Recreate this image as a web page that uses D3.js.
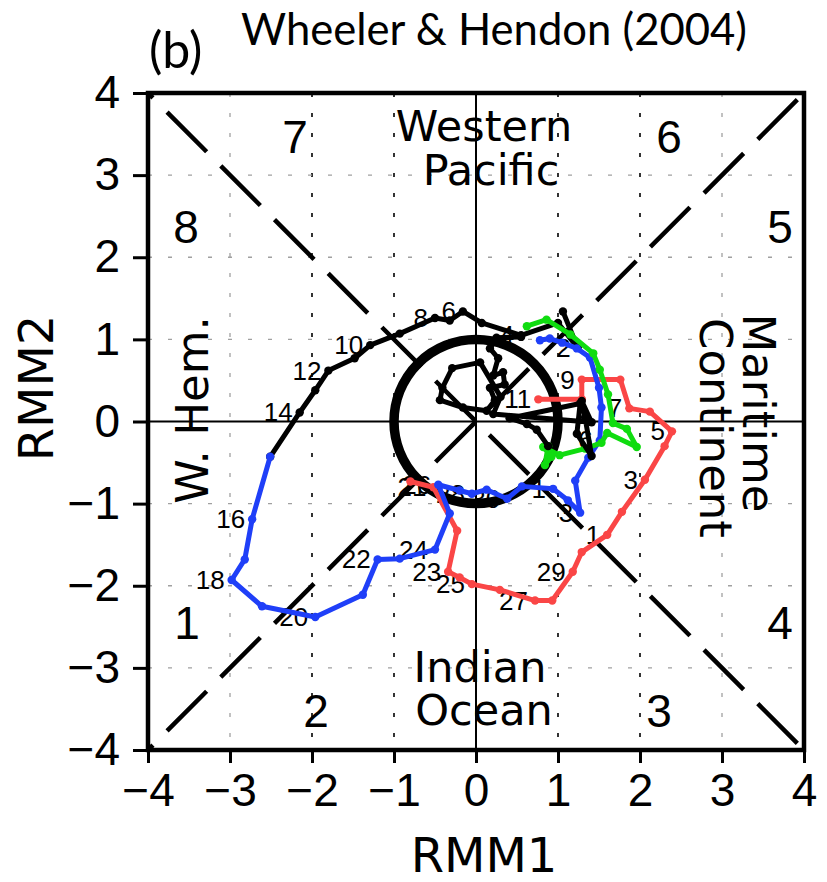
<!DOCTYPE html>
<html>
<head>
<meta charset="utf-8">
<script src="https://cdn.jsdelivr.net/npm/d3@7"></script>
<style>
  html, body { margin: 0; background: #fff; }
  svg { display: block; }
</style>
</head>
<body>
<svg id="chart" width="827" height="882"></svg>
<script>
// ---- data -------------------------------------------------------------
const axisTicks = [-4, -3, -2, -1, 0, 1, 2, 3, 4];

// Black track: arc out of the western hemisphere side
const blackArcRMM1 = [1.06, 1.24, 1.00, 0.55, 0.07, -0.16, -0.32, -0.50, -0.93, -1.29, -1.48, -1.80, -1.96, -2.15, -2.51];
const blackArcRMM2 = [1.34, 0.90, 1.20, 1.05, 1.20, 1.34, 1.23, 1.26, 1.07, 0.93, 0.77, 0.62, 0.38, 0.11, -0.43];
const blackArcDays = [1, 2, 3, 4, 5, 6, 7, 8, 9, 10, 11, 12, 13, 14, 15];
const blackArcLabels = [2, 4, 6, 8, 10, 12, 14];

// Blue track
const blueRMM1 = [-2.51, -2.73, -2.82, -2.98, -2.61, -1.96, -1.38, -1.20, -0.93, -0.50, -0.32, -0.46, -0.20, -0.05, 0.13, 0.38, 0.56, 0.94, 1.12, 1.27, 1.21, 1.37, 1.51, 1.53, 1.50, 1.39, 1.23, 1.05, 0.90, 0.78];
const blueRMM2 = [-0.43, -1.19, -1.68, -1.93, -2.25, -2.38, -2.11, -1.68, -1.67, -1.56, -1.12, -0.77, -0.84, -0.88, -0.83, -0.94, -0.79, -0.82, -0.96, -1.11, -0.72, -0.44, -0.23, 0.17, 0.41, 0.78, 0.89, 0.96, 1.01, 0.99];
const blueDays = [15, 16, 17, 18, 19, 20, 21, 22, 23, 24, 25, 26, 27, 28, 29, 30, 31, 1, 2, 3, 4, 5, 6, 7, 8, 9, 10, 11, 12, 13];
const blueLabels = [16, 18, 20, 22, 24, 26, 28, 30, 1, 3, 6];

// Red track
const redRMM1 = [-0.80, -0.52, -0.23, -0.34, -0.20, -0.05, 0.29, 0.72, 0.93, 1.18, 1.29, 1.60, 1.78, 2.06, 2.30, 2.39, 2.12, 1.87, 1.76, 1.29, 1.29, 0.76];
const redRMM2 = [-0.73, -0.80, -1.33, -1.83, -1.90, -1.98, -2.05, -2.18, -2.18, -1.83, -1.59, -1.38, -1.10, -0.71, -0.30, -0.12, 0.12, 0.16, 0.51, 0.51, 0.27, 0.27];
const redDays = [20, 21, 22, 23, 24, 25, 26, 27, 28, 29, 30, 1, 2, 3, 4, 5, 6, 7, 8, 9, 10, 11];
const redLabels = [21, 23, 25, 27, 29, 1, 3, 5, 7, 9, 11];

// Green track
const greenRMM1 = [0.88, 0.84, 0.92, 0.82, 1.02, 1.33, 1.53, 1.60, 1.96, 1.84, 1.67, 1.61, 1.51, 1.43, 1.15, 0.86, 0.62];
const greenRMM2 = [-0.30, -0.53, -0.43, -0.31, -0.41, -0.33, -0.26, -0.14, -0.31, -0.09, -0.02, 0.33, 0.63, 0.83, 1.06, 1.24, 1.16];

// Black track inside the weak-amplitude circle
const blackInRMM1 = [0.55, 0.25, 0.17, 0.27, 0.21, 0.33, 0.35, 0.17, 0.23, 0.13, -0.16, -0.44, -0.41, -0.29, 0.05, 0.30, 0.21, 1.41, 1.29, 1.33, 1.41, 1.23, 1.27, 0.41, 0.62, 0.74, 0.88];
const blackInRMM2 = [1.03, 1.02, 0.89, 0.77, 0.56, 0.60, 0.45, 0.41, 0.26, 0.13, 0.17, 0.26, 0.41, 0.65, 0.72, 0.30, 0.09, -0.01, 0.25, 0.05, -0.42, -0.15, 0.22, 0.04, -0.03, -0.10, -0.30];

// ---- layout -----------------------------------------------------------
const svg = d3.select("#chart");
const x = d3.scaleLinear().domain([-4, 4]).range([148, 804]);
const y = d3.scaleLinear().domain([-4, 4]).range([750, 93]);
const NUM_FONT = "'Liberation Sans', Arial, sans-serif";
const WORD_FONT = "'DejaVu Sans', sans-serif";

// grid lines
const grid = svg.append("g");
axisTicks.filter(v => v !== 0 && Math.abs(v) < 4).forEach(v => {
  grid.append("line")
    .attr("x1", x(-4)).attr("x2", x(4)).attr("y1", y(v)).attr("y2", y(v))
    .attr("stroke", "#a0a0a0").attr("stroke-width", 1.3).attr("stroke-dasharray", "4,16");
  const dark = Math.abs(v) <= 2;
  grid.append("line")
    .attr("y1", y(4)).attr("y2", y(-4)).attr("x1", x(v)).attr("x2", x(v))
    .attr("stroke", dark ? "#000" : "#a0a0a0")
    .attr("stroke-width", dark ? 1.6 : 1.3)
    .attr("stroke-dasharray", "4,16");
});

// zero axes
svg.append("line").attr("x1", x(-4)).attr("x2", x(4)).attr("y1", y(0)).attr("y2", y(0))
  .attr("stroke", "#000").attr("stroke-width", 2);
svg.append("line").attr("x1", x(0)).attr("x2", x(0)).attr("y1", y(4)).attr("y2", y(-4))
  .attr("stroke", "#000").attr("stroke-width", 2);

// phase boundary diagonals
[[[-4, -4], [4, 4]], [[-4, 4], [4, -4]]].forEach(([a, b]) => {
  svg.append("line")
    .attr("x1", x(a[0])).attr("y1", y(a[1])).attr("x2", x(b[0])).attr("y2", y(b[1]))
    .attr("stroke", "#000").attr("stroke-width", 4.5)
    .attr("stroke-dasharray", "56,20").attr("stroke-dashoffset", 49);
});

// phase numbers and region names
const phasePos = [
  ["1", 187, 639], ["2", 316, 727], ["3", 659, 727], ["4", 780, 639],
  ["5", 780, 243], ["6", 669, 153], ["7", 295, 153], ["8", 186, 243]
];
phasePos.forEach(([t, px, py]) => {
  svg.append("text").attr("x", px).attr("y", py).attr("text-anchor", "middle")
    .attr("font-family", NUM_FONT).attr("font-size", 46).text(t);
});
const regionText = [
  ["Western", 484, 141], ["Pacific", 491, 185], ["Indian", 480, 682], ["Ocean", 484, 725]
];
regionText.forEach(([t, px, py]) => {
  svg.append("text").attr("x", px).attr("y", py).attr("text-anchor", "middle")
    .attr("font-family", WORD_FONT).attr("font-size", 43).text(t);
});
svg.append("text").attr("transform", "translate(208,410) rotate(-90)")
  .attr("text-anchor", "middle").attr("font-family", WORD_FONT).attr("font-size", 45)
  .text("W. Hem.");
svg.append("text").attr("transform", "translate(743,413) rotate(90)")
  .attr("text-anchor", "middle").attr("font-family", WORD_FONT).attr("font-size", 45)
  .text("Maritime");
svg.append("text").attr("transform", "translate(700,428) rotate(90)")
  .attr("text-anchor", "middle").attr("font-family", WORD_FONT).attr("font-size", 45)
  .text("Continent");

// day labels sit beneath the tracks
const labelLayer = svg.append("g");
// unit amplitude circle
svg.append("circle")
  .attr("cx", x(0)).attr("cy", y(0)).attr("r", x(1) - x(0))
  .attr("fill", "none").attr("stroke", "#000").attr("stroke-width", 9.5);
const trackLayer = svg.append("g");

const line = d3.line().x(d => x(d[0])).y(d => y(d[1]));

function drawTrack(rmm1, rmm2, color) {
  const pts = rmm1.map((v, i) => [v, rmm2[i]]);
  const g = trackLayer.append("g");
  g.append("path").attr("d", line(pts)).attr("fill", "none")
    .attr("stroke", color).attr("stroke-width", 5)
    .attr("stroke-linejoin", "round").attr("stroke-linecap", "round");
  g.selectAll("circle").data(pts).join("circle")
    .attr("cx", d => x(d[0])).attr("cy", d => y(d[1])).attr("r", 4.2).attr("fill", color);
}

function drawLabels(rmm1, rmm2, days, shown) {
  days.forEach((d, i) => {
    if (!shown.includes(d)) return;
    labelLayer.append("text")
      .attr("x", x(rmm1[i]) - 7).attr("y", y(rmm2[i]) + 9)
      .attr("text-anchor", "end").attr("font-family", NUM_FONT).attr("font-size", 26)
      .text(d);
  });
}

drawLabels(blackArcRMM1, blackArcRMM2, blackArcDays, blackArcLabels);
drawLabels(blueRMM1, blueRMM2, blueDays, blueLabels);
drawLabels(redRMM1, redRMM2, redDays, redLabels);

drawTrack(redRMM1, redRMM2, "#fa4646");
drawTrack(blackArcRMM1, blackArcRMM2, "#000");
drawTrack(blueRMM1, blueRMM2, "#1f3ff8");
drawTrack(greenRMM1, greenRMM2, "#10dc10");
drawTrack(blackInRMM1, blackInRMM2, "#000");

// frame
svg.append("rect").attr("x", x(-4)).attr("y", y(4))
  .attr("width", x(4) - x(-4)).attr("height", y(-4) - y(4))
  .attr("fill", "none").attr("stroke", "#000").attr("stroke-width", 4.5);

// axes
const yAxis = svg.append("g").attr("transform", `translate(${x(-4)},0)`)
  .call(d3.axisLeft(y).tickValues(axisTicks).tickSize(15).tickPadding(13));
const xAxis = svg.append("g").attr("transform", `translate(0,${y(-4)})`)
  .call(d3.axisBottom(x).tickValues(axisTicks).tickSize(13).tickPadding(10));
[yAxis, xAxis].forEach(a => {
  a.select(".domain").remove();
  a.selectAll(".tick line").attr("stroke", "#000").attr("stroke-width", 3);
  a.selectAll(".tick text").attr("font-family", NUM_FONT).attr("font-size", 46).attr("fill", "#000");
});

// axis titles
svg.append("text").attr("x", 484).attr("y", 872).attr("text-anchor", "middle")
  .attr("font-family", WORD_FONT).attr("font-size", 48).text("RMM1");
svg.append("text").attr("transform", "translate(53,388) rotate(-90)")
  .attr("text-anchor", "middle").attr("font-family", WORD_FONT).attr("font-size", 48).text("RMM2");

// heading
svg.append("text").attr("x", 241).attr("y", 45)
  .attr("font-family", "Lato, 'Open Sans', sans-serif").attr("font-size", 44)
  .attr("textLength", 506).attr("lengthAdjust", "spacingAndGlyphs")
  .text("Wheeler & Hendon (2004)");
svg.append("text").attr("x", 149).attr("y", 68)
  .attr("font-family", "Lato, 'Open Sans', sans-serif").attr("font-size", 50)
  .text("(b)");
</script>
</body>
</html>
